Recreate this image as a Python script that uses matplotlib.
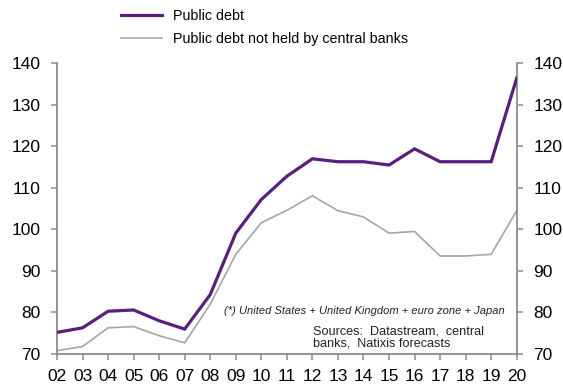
import matplotlib
matplotlib.use("Agg")
import matplotlib.pyplot as plt

plt.rcParams['font.family'] = ['Liberation Sans', 'DejaVu Sans']

years = ["02", "03", "04", "05", "06", "07", "08", "09", "10", "11",
         "12", "13", "14", "15", "16", "17", "18", "19", "20"]
public_debt = [75.2, 76.3, 80.3, 80.6, 78.0, 76.0, 84.3, 99.1, 107.2, 112.8,
               117.0, 116.3, 116.3, 115.5, 119.4, 116.3, 116.3, 116.3, 136.4]
debt_not_cb = [70.8, 71.8, 76.3, 76.6, 74.4, 72.7, 82.0, 94.0, 101.6, 104.6,
               108.1, 104.5, 103.0, 99.1, 99.5, 93.6, 93.6, 94.0, 104.5]
y_ticks = [70, 80, 90, 100, 110, 120, 130, 140]

PURPLE = "#5a1f7d"
GREY_LINE = "#a6a6a6"
SPINE = "#8c8c8c"

W, H = 563, 387
fig = plt.figure(figsize=(W / 100, H / 100), dpi=100)
ax = fig.add_axes([57 / W, 1 - 354 / H, (516.7 - 57) / W, (354 - 63.3) / H])

x = list(range(len(years)))
l1, = ax.plot(x, public_debt, color=PURPLE, lw=2.3, label="Public debt",
              solid_joinstyle='miter', zorder=3)
l2, = ax.plot(x, debt_not_cb, color=GREY_LINE, lw=1.2,
              label="Public debt not held by central banks", zorder=2)

ax.set_xlim(0, len(years) - 1)
ax.set_ylim(70, 140)
ax.set_xticks(x)
ax.set_xticklabels(years)
ax.set_yticks(y_ticks)

ax.spines["top"].set_visible(False)
for side in ["left", "right", "bottom"]:
    ax.spines[side].set_color(SPINE)
    ax.spines[side].set_linewidth(1.3)

ax.tick_params(axis='x', direction='out', length=4, width=1.1, color=SPINE,
               labelsize=12.5, pad=7)
ax.tick_params(axis='y', direction='out', length=4, width=1.1, color=SPINE,
               labelsize=12.5, pad=8, right=True, labelright=True)

fig.legend(handles=[l1, l2], loc='upper left',
           bbox_to_anchor=(121 / W, 1 - 9 / H), frameon=False,
           fontsize=10.3, handlelength=2.9, handletextpad=0.75,
           labelspacing=0.6, borderpad=0, borderaxespad=0)

fig.text(505 / W, 1 - 311 / H,
         "(*) United States + United Kingdom + euro zone + Japan",
         ha='right', va='center', style='italic', fontsize=8.0, color='#222222')
fig.text(313 / W, 1 - 337 / H,
         "Sources:  Datastream,  central\nbanks,  Natixis forecasts",
         ha='left', va='center', fontsize=9.1, color='#222222',
         linespacing=1.0)

fig.savefig("out.png", dpi=100)
